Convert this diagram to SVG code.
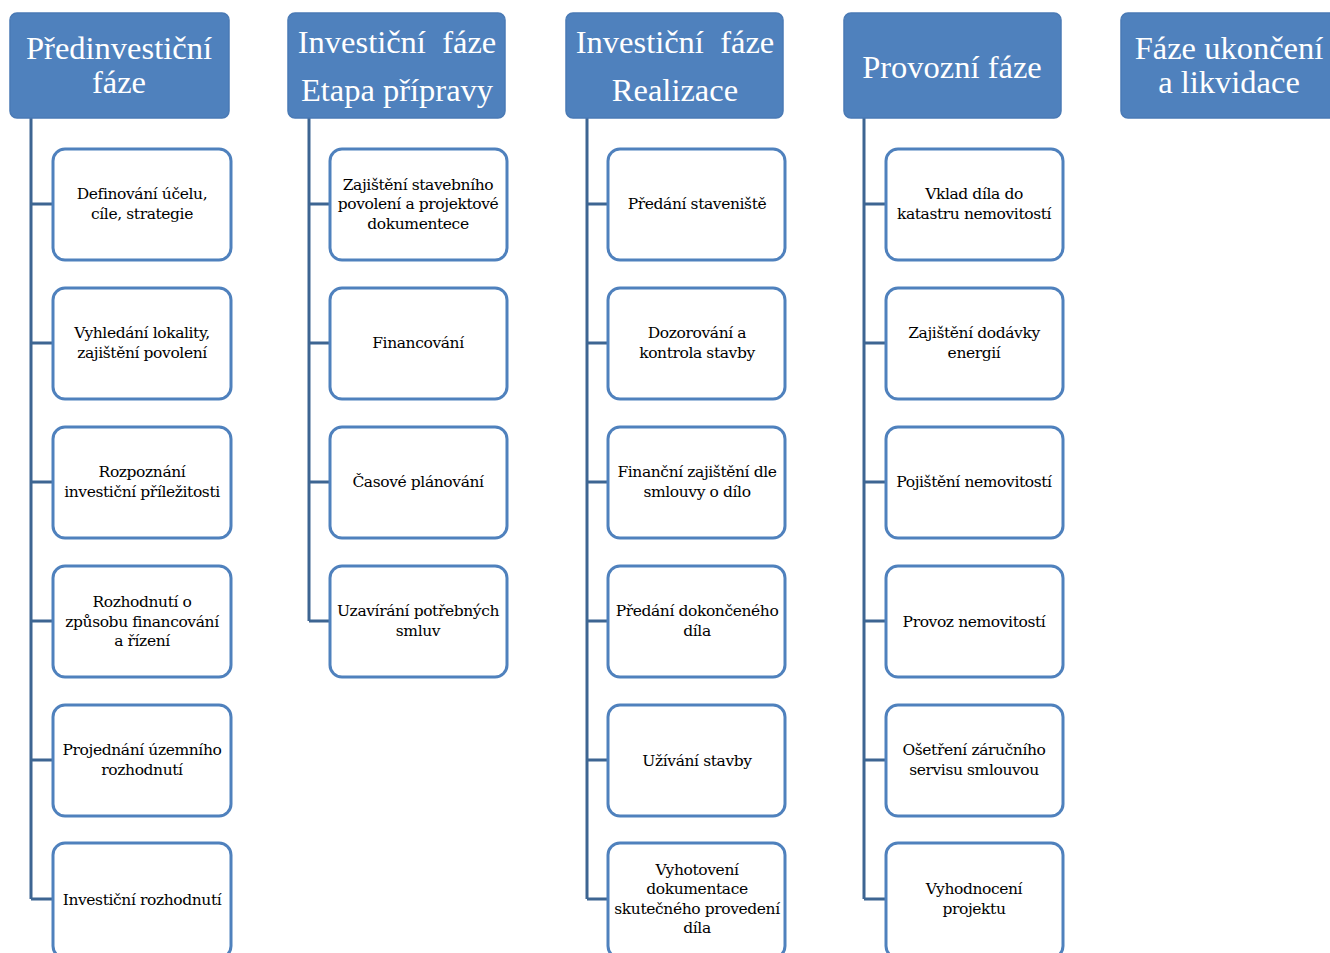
<svg xmlns="http://www.w3.org/2000/svg" width="1330" height="953" viewBox="0 0 1330 953">
<style>
.hdr{fill:#4F81BD;stroke:#4A7AB5;stroke-width:1.5}
.ht{font-family:"Liberation Serif",serif;font-size:32.5px;fill:#FFFFFF;text-anchor:middle}
.box{fill:#FFFFFF;stroke:#4F81BD;stroke-width:3}
.bt{font-family:"DejaVu Serif",serif;font-size:15.5px;fill:#000000;text-anchor:middle;letter-spacing:-0.4px}
.con{fill:none;stroke:#3D6592;stroke-width:3}
</style>
<rect width="1330" height="953" fill="#FFFFFF"/>
<g id="connectors">
<path class="con" d="M31,118 V899 M31,204 H53 M31,343 H53 M31,482 H53 M31,621 H53 M31,760 H53 M31,899 H53"/>
<path class="con" d="M309,118 V621 M309,204 H330 M309,343 H330 M309,482 H330 M309,621 H330"/>
<path class="con" d="M587,118 V899 M587,204 H608 M587,343 H608 M587,482 H608 M587,621 H608 M587,760 H608 M587,899 H608"/>
<path class="con" d="M864,118 V899 M864,204 H886 M864,343 H886 M864,482 H886 M864,621 H886 M864,760 H886 M864,899 H886"/>
</g>
<g id="h1"><rect class="hdr" x="10" y="13" width="219" height="105" rx="7"/><text class="ht" x="119" y="59">Předinvestiční</text><text class="ht" x="119" y="93">fáze</text></g>
<g id="h2"><rect class="hdr" x="288" y="13" width="217" height="105" rx="7"/><text class="ht" x="397" y="53" xml:space="preserve">Investiční  fáze</text><text class="ht" x="397" y="101">Etapa přípravy</text></g>
<g id="h3"><rect class="hdr" x="566" y="13" width="217" height="105" rx="7"/><text class="ht" x="675" y="53" xml:space="preserve">Investiční  fáze</text><text class="ht" x="675" y="101">Realizace</text></g>
<g id="h4"><rect class="hdr" x="844" y="13" width="217" height="105" rx="7"/><text class="ht" x="952" y="78">Provozní fáze</text></g>
<g id="h5"><rect class="hdr" x="1121" y="13" width="218" height="105" rx="7"/><text class="ht" x="1229" y="59">Fáze ukončení</text><text class="ht" x="1229" y="93">a likvidace</text></g>

<g id="c1n1"><rect class="box" x="53" y="149" width="178" height="111" rx="12"/><text class="bt" x="142" y="199">Definování účelu,</text><text class="bt" x="142" y="219">cíle, strategie</text></g>
<g id="c1n2"><rect class="box" x="53" y="288" width="178" height="111" rx="12"/><text class="bt" x="142" y="338">Vyhledání lokality,</text><text class="bt" x="142" y="358">zajištění povolení</text></g>
<g id="c1n3"><rect class="box" x="53" y="427" width="178" height="111" rx="12"/><text class="bt" x="142" y="477">Rozpoznání</text><text class="bt" x="142" y="497">investiční příležitosti</text></g>
<g id="c1n4"><rect class="box" x="53" y="566" width="178" height="111" rx="12"/><text class="bt" x="142" y="607">Rozhodnutí o</text><text class="bt" x="142" y="627">způsobu financování</text><text class="bt" x="142" y="646">a řízení</text></g>
<g id="c1n5"><rect class="box" x="53" y="705" width="178" height="111" rx="12"/><text class="bt" x="142" y="755">Projednání územního</text><text class="bt" x="142" y="775">rozhodnutí</text></g>
<g id="c1n6"><rect class="box" x="53" y="843" width="178" height="115" rx="12"/><text class="bt" x="142" y="905">Investiční rozhodnutí</text></g>

<g id="c2n1"><rect class="box" x="330" y="149" width="177" height="111" rx="12"/><text class="bt" x="418" y="190">Zajištění stavebního</text><text class="bt" x="418" y="209">povolení a projektové</text><text class="bt" x="418" y="229">dokumentece</text></g>
<g id="c2n2"><rect class="box" x="330" y="288" width="177" height="111" rx="12"/><text class="bt" x="418" y="348">Financování</text></g>
<g id="c2n3"><rect class="box" x="330" y="427" width="177" height="111" rx="12"/><text class="bt" x="418" y="487">Časové plánování</text></g>
<g id="c2n4"><rect class="box" x="330" y="566" width="177" height="111" rx="12"/><text class="bt" x="418" y="616">Uzavírání potřebných</text><text class="bt" x="418" y="636">smluv</text></g>

<g id="c3n1"><rect class="box" x="608" y="149" width="177" height="111" rx="12"/><text class="bt" x="697" y="209">Předání staveniště</text></g>
<g id="c3n2"><rect class="box" x="608" y="288" width="177" height="111" rx="12"/><text class="bt" x="697" y="338">Dozorování a</text><text class="bt" x="697" y="358">kontrola stavby</text></g>
<g id="c3n3"><rect class="box" x="608" y="427" width="177" height="111" rx="12"/><text class="bt" x="697" y="477">Finanční zajištění dle</text><text class="bt" x="697" y="497">smlouvy o dílo</text></g>
<g id="c3n4"><rect class="box" x="608" y="566" width="177" height="111" rx="12"/><text class="bt" x="697" y="616">Předání dokončeného</text><text class="bt" x="697" y="636">díla</text></g>
<g id="c3n5"><rect class="box" x="608" y="705" width="177" height="111" rx="12"/><text class="bt" x="697" y="766">Užívání stavby</text></g>
<g id="c3n6"><rect class="box" x="608" y="843" width="177" height="115" rx="12"/><text class="bt" x="697" y="875">Vyhotovení</text><text class="bt" x="697" y="894">dokumentace</text><text class="bt" x="697" y="914">skutečného provedení</text><text class="bt" x="697" y="933">díla</text></g>

<g id="c4n1"><rect class="box" x="886" y="149" width="177" height="111" rx="12"/><text class="bt" x="974" y="199">Vklad díla do</text><text class="bt" x="974" y="219">katastru nemovitostí</text></g>
<g id="c4n2"><rect class="box" x="886" y="288" width="177" height="111" rx="12"/><text class="bt" x="974" y="338">Zajištění dodávky</text><text class="bt" x="974" y="358">energií</text></g>
<g id="c4n3"><rect class="box" x="886" y="427" width="177" height="111" rx="12"/><text class="bt" x="974" y="487">Pojištění nemovitostí</text></g>
<g id="c4n4"><rect class="box" x="886" y="566" width="177" height="111" rx="12"/><text class="bt" x="974" y="627">Provoz nemovitostí</text></g>
<g id="c4n5"><rect class="box" x="886" y="705" width="177" height="111" rx="12"/><text class="bt" x="974" y="755">Ošetření záručního</text><text class="bt" x="974" y="775">servisu smlouvou</text></g>
<g id="c4n6"><rect class="box" x="886" y="843" width="177" height="115" rx="12"/><text class="bt" x="974" y="894">Vyhodnocení</text><text class="bt" x="974" y="914">projektu</text></g>
</svg>
